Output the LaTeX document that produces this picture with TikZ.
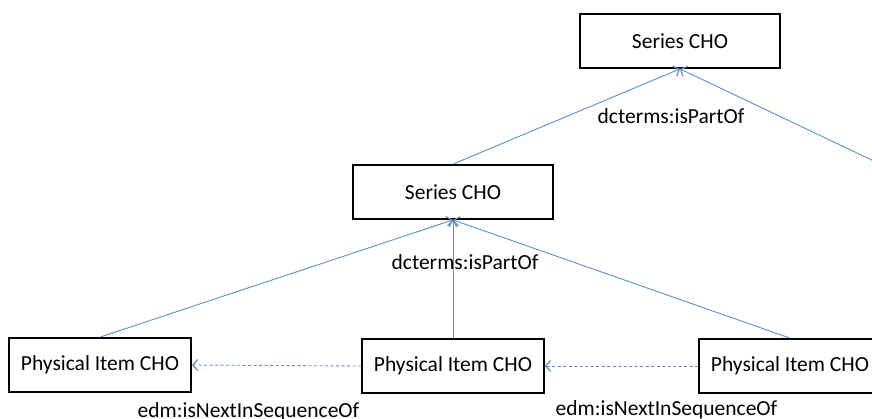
\documentclass[tikz,border=0pt]{standalone}
\usepackage{fontspec}
\setmainfont{Carlito}
\usetikzlibrary{arrows.meta}
\definecolor{linkblue}{HTML}{5B8FD0}
\begin{document}
\begin{tikzpicture}[x=1pt,y=-1pt,
  chobox/.style={draw=black,line width=1.8pt,fill=white,minimum height=54pt,inner sep=0pt,
    font=\fontsize{21.5}{25}\selectfont},
  partof/.style={draw=linkblue,line width=0.9pt,-{Straight Barb[length=5pt,width=11pt,line width=1.2pt]}},
  nextof/.style={draw=linkblue,line width=0.9pt,dash pattern=on 3pt off 2.5pt,
    -{Straight Barb[length=5pt,width=11pt,line width=1.2pt]}},
  lbl/.style={inner sep=0pt,font=\fontsize{21.5}{25}\selectfont}]
\useasboundingbox (0,0) rectangle (872,418);
\clip (0,0) rectangle (872,418);
\fill[white] (0,0) rectangle (872,418);

% series level
\node[chobox,minimum width=200pt] (top) at (680,41) {Series CHO};
\node[chobox,minimum width=200pt] (mid) at (453,192) {Series CHO};
\coordinate (offright) at (920,183);

% physical items
\node[chobox,minimum width=182pt] (pl) at (100,365) {Physical Item CHO};
\node[chobox,minimum width=182pt] (pm) at (453,366) {Physical Item CHO};
\node[chobox,minimum width=182pt] (pr) at (790,366) {Physical Item CHO};

% dcterms:isPartOf links
\draw[partof] (mid.north) -- (top.south);
\draw[partof] (offright) -- (top.south);
\draw[partof] (pl.north) -- (mid.south);
\draw[partof] (pm.north) -- (mid.south);
\draw[partof] (pr.north) -- (mid.south);

% edm:isNextInSequenceOf links
\draw[nextof] (pm.west) -- (pl.east);
\draw[nextof] (pr.west) -- (pm.east);

% labels
\node[lbl] (l1) at (671,116) {dcterms:isPartOf};
\node[lbl] (l2) at (465,262) {dcterms:isPartOf};
\node[lbl,anchor=base] (l3) at (248.5,417) {edm:isNextInSequenceOf};
\node[lbl,anchor=base] (l4) at (666.5,415) {edm:isNextInSequenceOf};
\end{tikzpicture}
\end{document}
